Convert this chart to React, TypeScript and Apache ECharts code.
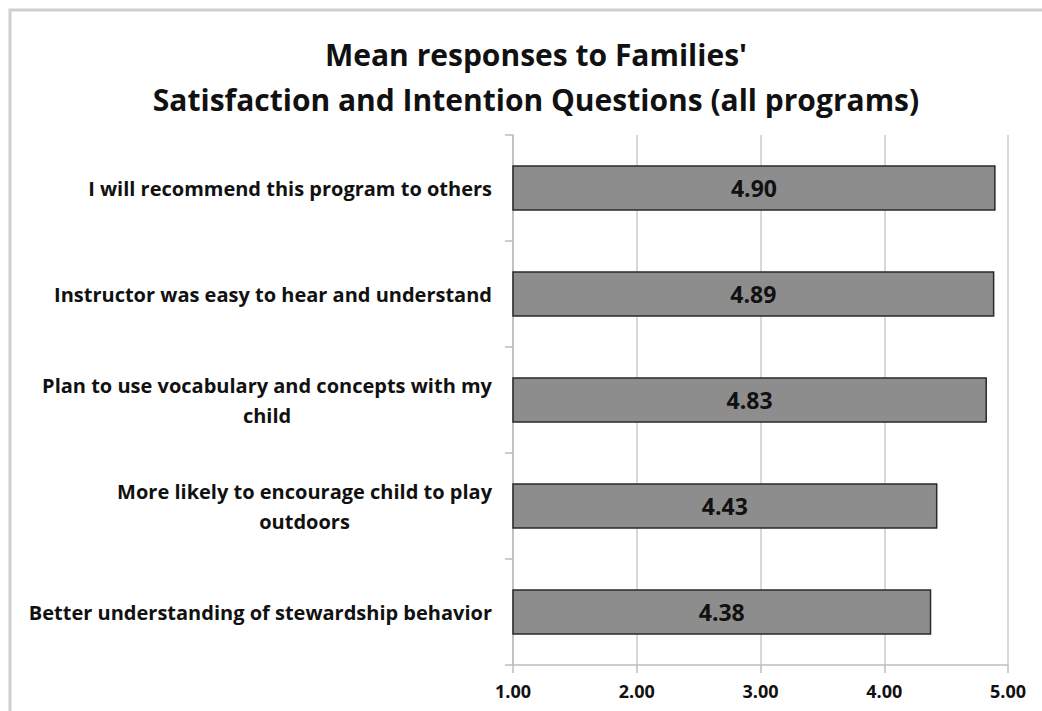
import React, { useEffect, useRef } from "react";
import * as echarts from "echarts";

const titleLines = ["Mean responses to Families'", "Satisfaction and Intention Questions (all programs)"];
const categories = [
  "I will recommend this program to others",
  "Instructor was easy to hear and understand",
  "Plan to use vocabulary and concepts with my\nchild",
  "More likely to encourage child to play\noutdoors",
  "Better understanding of stewardship behavior",
];
const meanValues = [4.9, 4.89, 4.83, 4.43, 4.38];
const xMin = 1;
const xMax = 5;
const xInterval = 1;

const FONT = "'Open Sans', sans-serif";

export default function App() {
  const ref = useRef<HTMLDivElement>(null);
  useEffect(() => {
    if (!ref.current) return;
    const chart = echarts.init(ref.current, null, { renderer: "svg" });
    chart.setOption({
      animation: false,
      backgroundColor: "#ffffff",
      title: {
        text: titleLines.join("\n"),
        left: 531,
        textAlign: "center",
        top: 27,
        textStyle: {
          fontFamily: FONT,
          fontWeight: "bold",
          fontSize: 30,
          lineHeight: 45,
          color: "#111",
        },
      },
      graphic: [
        {
          type: "rect",
          shape: { x: 10, y: 10, width: 1050, height: 720 },
          style: { fill: "none", stroke: "#d0d0d0", lineWidth: 3 },
          silent: true,
          z: -1,
        },
      ],
      grid: { left: 513, right: 34, top: 135, bottom: 46, containLabel: false },
      xAxis: {
        type: "value",
        min: xMin,
        max: xMax,
        interval: xInterval,
        axisLine: { show: true, lineStyle: { color: "#bdbdbd", width: 1.5 } },
        axisTick: { show: true, length: 8, lineStyle: { color: "#bdbdbd", width: 1.5 } },
        splitLine: { show: true, lineStyle: { color: "#cbcbcb", width: 1.5 } },
        axisLabel: {
          formatter: (v: number) => v.toFixed(2),
          fontFamily: FONT,
          fontWeight: "bold",
          fontSize: 18,
          color: "#111",
          margin: 17,
        },
      },
      yAxis: {
        type: "category",
        data: categories,
        inverse: true,
        axisLine: { show: true, lineStyle: { color: "#bdbdbd", width: 1.5 } },
        axisTick: { show: true, length: 8, lineStyle: { color: "#bdbdbd", width: 1.5 } },
        axisLabel: {
          margin: 21,
          formatter: (v: string) => v.split("\n").map((l) => `{c|${l}}`).join("\n"),
          rich: {
            c: {
              align: "center",
              fontFamily: FONT,
              fontWeight: "bold",
              fontSize: 20,
              lineHeight: 30,
              color: "#111",
            },
          },
        },
      },
      series: [
        {
          type: "bar",
          data: meanValues,
          barWidth: "43%",
          clip: true,
          itemStyle: { color: "#8d8d8d", borderColor: "#2a2a2a", borderWidth: 1.5 },
          label: {
            show: true,
            position: "inside",
            formatter: (p: any) => Number(p.value).toFixed(2),
            fontFamily: FONT,
            fontWeight: "bold",
            fontSize: 23,
            color: "#111",
          },
        },
      ],
    });
    return () => chart.dispose();
  }, []);
  return (
    <div
      ref={ref}
      style={{ position: "absolute", left: 0, top: 0, width: 1042, height: 711 }}
    />
  );
}
